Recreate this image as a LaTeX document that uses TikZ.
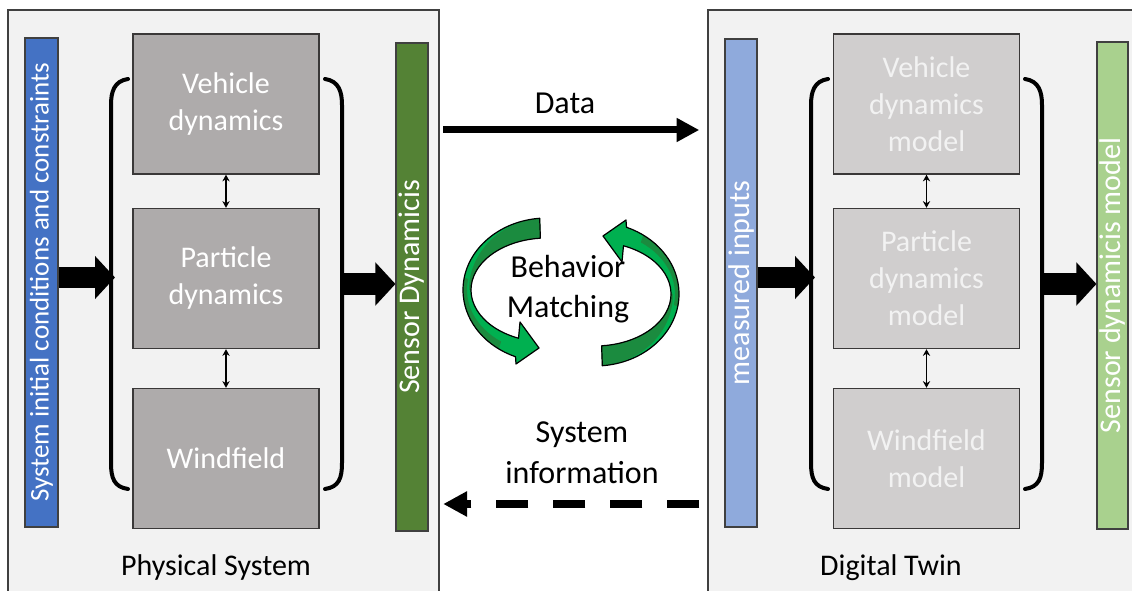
\documentclass[tikz,border=0pt]{standalone}
\usepackage{fontspec}
\setmainfont{Carlito}
\usetikzlibrary{arrows.meta}
\definecolor{panelfill}{HTML}{F2F2F2}
\definecolor{panelline}{HTML}{404040}
\definecolor{boxdark}{HTML}{AEABAB}
\definecolor{boxlight}{HTML}{D0CECE}
\definecolor{boxline}{HTML}{3A3838}
\definecolor{barblue}{HTML}{4472C4}
\definecolor{bargreen}{HTML}{548235}
\definecolor{barlblue}{HTML}{8FAADC}
\definecolor{barlgreen}{HTML}{A9D18E}
\definecolor{arrgreen}{HTML}{00B050}
\definecolor{arrdark}{HTML}{1B8B3F}
\begin{document}
\begin{tikzpicture}[x=0.75pt,y=-0.75pt,
  panel/.style={draw=panelline, fill=panelfill, line width=1.1pt, inner sep=0pt, minimum width=323.25pt, minimum height=442.5pt},
  blk/.style={draw=boxline, line width=1.1pt, minimum width=139.5pt, minimum height=105pt, inner sep=0pt, align=center, font=\fontsize{22.5}{27.75}\selectfont},
  blkdark/.style={blk, fill=boxdark, text=white},
  blklight/.style={blk, fill=boxlight, text=panelfill},
  bar/.style={draw=panelline, line width=0.8pt, inner sep=0pt, text=white, rotate=90, font=\fontsize{22.5}{27}\selectfont},
  brace/.style={line width=3pt, line cap=round},
  dbl/.style={line width=1.1pt, {Stealth[length=5pt,width=5.5pt]}-{Stealth[length=5pt,width=5.5pt]}},
  blockarrow/.style={line width=16pt, -{Triangle[length=15pt,width=31.5pt]}},
  dataarrow/.style={line width=5.25pt, -{Triangle[length=17pt,width=17pt]}},
  infoarrow/.style={line width=6pt, dash pattern=on 24pt off 18.75pt, -{Triangle[length=18pt,width=18pt]}},
  lbl/.style={align=center, inner sep=0pt, font=\fontsize{22.5}{28}\selectfont},
  midlbl/.style={align=center, inner sep=0pt, font=\fontsize{24}{30.5}\selectfont},
  cyc/.pic={
    \fill[arrgreen] (265:84 and 72) arc[start angle=265,end angle=112,x radius=84,y radius=72]
      -- (-31,74) -- (-8,58) -- (-27,32) -- (112:76 and 52)
      arc[start angle=112,end angle=265,x radius=76,y radius=52] -- cycle;
    \fill[arrdark] (180:78 and 72) arc[start angle=180,end angle=265,x radius=78,y radius=72]
      -- (265:76 and 52) arc[start angle=265,end angle=180,x radius=76,y radius=52] -- cycle;
    \fill[arrdark] (190:84 and 72) arc[start angle=190,end angle=125,x radius=84,y radius=72]
      -- (125:80 and 63) arc[start angle=125,end angle=190,x radius=80,y radius=63] -- cycle;
    \draw[line width=0.9pt, line join=round] (265:84 and 72) arc[start angle=265,end angle=112,x radius=84,y radius=72]
      -- (-31,74) -- (-8,58) -- (-27,32) -- (112:76 and 52)
      arc[start angle=112,end angle=265,x radius=76,y radius=52] -- cycle;
  }
]
\useasboundingbox (0,0) rectangle (1132,591);
\fill[white] (0,0) rectangle (1132,591);
\clip (0,0) rectangle (1132,591);

% ---------- panels ----------
\node[panel] (PS) at (223.5,305) {};
\node[panel] (DT) at (923.5,305) {};

% ---------- physical system ----------
\node[blkdark] (v1) at (226,104) {Vehicle\\dynamics};
\node[blkdark] (p1) at (226,278.5) {Particle\\dynamics};
\node[blkdark] (w1) at (226,458.5) {Windfield};
\draw[dbl] (v1.south) -- (p1.north);
\draw[dbl] (p1.south) -- (w1.north);
\node[bar, fill=barblue, minimum width=366.75pt, minimum height=24.75pt, font=\fontsize{20.25}{24}\selectfont] (inL) at (41.5,282.5) {System initial conditions and constraints};
\node[bar, fill=bargreen, minimum width=366pt, minimum height=24pt] (snL) at (412,287) {Sensor Dynamicis};
\draw[brace] (128,79) .. controls (114,81) and (111,92) .. (111,105) -- (111,463) .. controls (111,478) and (114,487) .. (128,489);
\draw[brace] (325,79) .. controls (339,81) and (342,92) .. (342,105) -- (342,463) .. controls (342,478) and (339,487) .. (325,489);
\coordinate (bl1) at (115,277.5);
\coordinate (br1) at (342,284);
\draw[blockarrow] (inL.south |- bl1) -- (bl1);
\draw[blockarrow] (br1) -- (snL.north |- br1);
\node[lbl] (psl) at (216,568) {Physical System};

% ---------- digital twin ----------
\node[blklight] (v2) at (926.5,104) {Vehicle\\dynamics\\model};
\node[blklight] (p2) at (926.5,278.5) {Particle\\dynamics\\model};
\node[blklight] (w2) at (926.5,458.5) {Windfield\\model};
\draw[dbl] (v2.south) -- (p2.north);
\draw[dbl] (p2.south) -- (w2.north);
\node[bar, fill=barlblue, minimum width=366pt, minimum height=24pt] (inR) at (741,283) {measured inputs};
\node[bar, fill=barlgreen, minimum width=365.25pt, minimum height=23.25pt] (snR) at (1112.5,285.5) {Sensor dynamicis model};
\draw[brace] (828,79) .. controls (814,81) and (811,92) .. (811,105) -- (811,463) .. controls (811,478) and (814,487) .. (828,489);
\draw[brace] (1025,79) .. controls (1039,81) and (1042,92) .. (1042,105) -- (1042,463) .. controls (1042,478) and (1039,487) .. (1025,489);
\coordinate (bl2) at (815,277.5);
\coordinate (br2) at (1042,284);
\draw[blockarrow] (inR.south |- bl2) -- (bl2);
\draw[blockarrow] (br2) -- (snR.north |- br2);
\node[lbl] (dtl) at (891,568) {Digital Twin};

% ---------- middle ----------
\coordinate (dy) at (0,130);
\coordinate (sy) at (0,504);
\draw[dataarrow, shorten <=2.6pt, shorten >=6pt] (PS.east |- dy) -- (DT.west |- dy);
\node[midlbl] (data) at (565,103) {Data};
\draw[infoarrow, shorten <=6pt, shorten >=2.6pt] (DT.west |- sy) -- (PS.east |- sy);
\node[midlbl] (info) at (582,453) {System\\information};
\pic at (547,290) {cyc};
\pic[rotate=180] at (595,294) {cyc};
\node[midlbl] (bm) at (568,289) {Behavior\\Matching};
\end{tikzpicture}
\end{document}
